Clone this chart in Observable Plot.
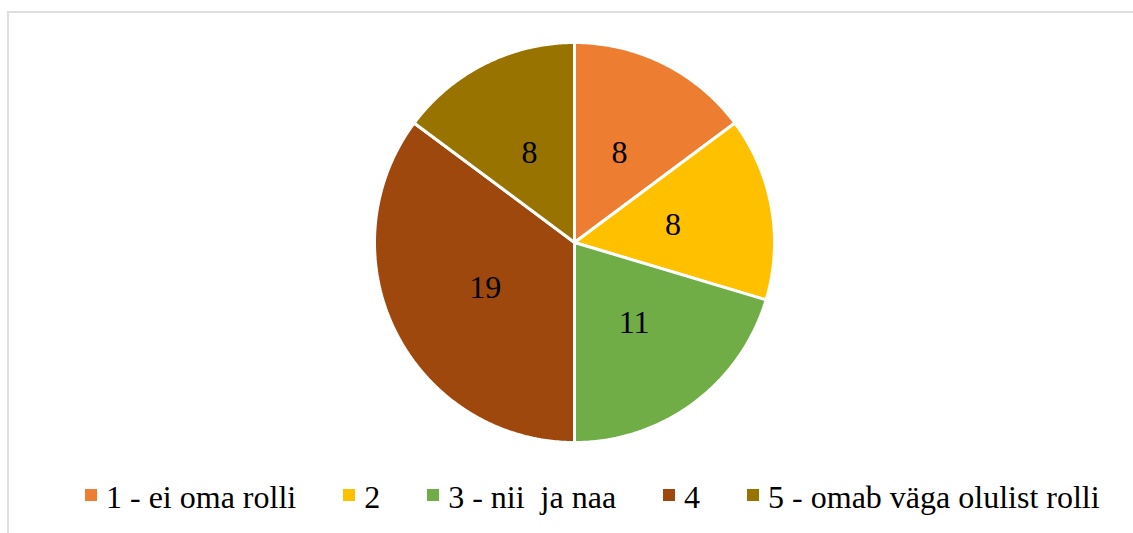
<!DOCTYPE html>
<html>
<head>
<meta charset="utf-8">
<script src="https://cdn.jsdelivr.net/npm/d3@7"></script>
<script src="https://cdn.jsdelivr.net/npm/@observablehq/plot@0.6"></script>
<style>
  html, body { margin: 0; padding: 0; background: #fff; overflow: hidden; width: 1133px; height: 533px; }
  #frame { position: absolute; left: 7px; top: 11px; width: 1300px; height: 700px;
           border-left: 2px solid #dedede; border-top: 2px solid #dedede; box-sizing: border-box; }
  #chart { position: absolute; left: 0; top: 0; }
  #chart text, #legend, #legend * { font-family: "Liberation Serif", "DejaVu Serif", serif !important; }
  #legend { position: absolute; left: 85px; top: 479px; }
  #legend .lg-swatches { margin: 0 !important; font-size: 32px !important; }
  #legend .lg-swatches-wrap { flex-wrap: nowrap !important; min-height: 0 !important; }
  #legend .lg-swatches-wrap .lg-swatch { margin-right: 47px !important; white-space: pre; color: #000; }
  #legend .lg-swatch > svg { margin-right: 9px !important; position: relative; top: -3px; }
</style>
</head>
<body>
<div id="frame"></div>
<div id="chart"></div>
<div id="legend"></div>
<script>
const categories = ["1 - ei oma rolli", "2", "3 - nii  ja naa", "4", "5 - omab väga olulist rolli"];
const values = [8, 8, 11, 19, 8];
const colors = ["#ED7D31", "#FFC000", "#70AD47", "#9E480E", "#997300"];

// Build slice polygons (angles clockwise from 12 o'clock) from the values
const total = d3.sum(values);
const cum = d3.cumsum(values);
const slices = categories.map((c, i) => {
  const a0 = ((cum[i] - values[i]) / total) * 2 * Math.PI;
  const a1 = (cum[i] / total) * 2 * Math.PI;
  return {category: c, value: values[i], a0, a1, mid: (a0 + a1) / 2};
});
const polyPoints = [];
for (const s of slices) {
  polyPoints.push({category: s.category, x: 0, y: 0});
  const n = Math.max(2, Math.ceil((s.a1 - s.a0) / 0.01));
  for (let k = 0; k <= n; k++) {
    const a = s.a0 + (s.a1 - s.a0) * k / n;
    polyPoints.push({category: s.category, x: Math.sin(a), y: Math.cos(a)});
  }
}
const labelPoints = slices.map(s => ({
  category: s.category, value: s.value,
  x: 0.5 * Math.sin(s.mid), y: 0.5 * Math.cos(s.mid)
}));

const chart = Plot.plot({
  width: 1133,
  height: 460,
  marginLeft: 374,
  marginRight: 359,
  marginTop: 42,
  marginBottom: 18,
  x: {domain: [-1, 1], axis: null},
  y: {domain: [-1, 1], axis: null},
  color: {type: "ordinal", domain: categories, range: colors},
  style: {background: "transparent", fontFamily: "Liberation Serif, serif"},
  marks: [
    Plot.line(polyPoints, {x: "x", y: "y", z: "category", fill: "category",
      stroke: "white", strokeWidth: 3, curve: "linear-closed", strokeLinejoin: "miter"}),
    Plot.text(labelPoints, {x: "x", y: "y", text: d => String(d.value),
      fontSize: 32, fill: "#000"})
  ]
});
document.getElementById("chart").appendChild(chart);

const legend = chart.legend("color", {
  swatchSize: 12,
  className: "lg"
});
document.getElementById("legend").appendChild(legend);
</script>
</body>
</html>
